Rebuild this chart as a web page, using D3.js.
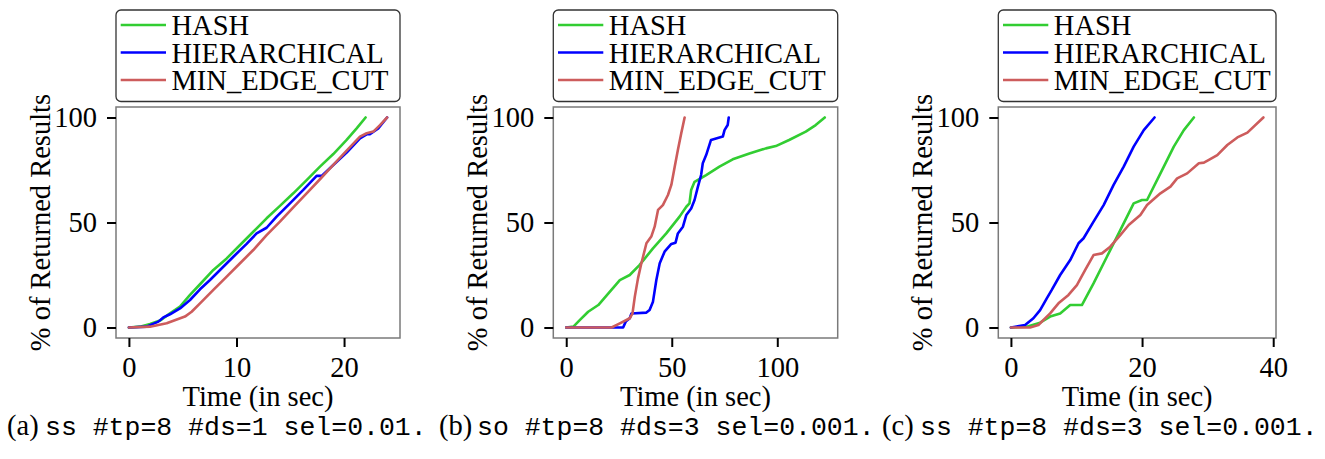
<!DOCTYPE html>
<html>
<head>
<meta charset="utf-8">
<script src="https://cdn.jsdelivr.net/npm/d3@7"></script>
<style>
  html, body { margin: 0; padding: 0; background: #fff; }
  svg { display: block; }
</style>
</head>
<body>
<svg id="fig" width="1325" height="459"></svg>
<script>
// Series names and colours
const seriesNames = ["HASH", "HIERARCHICAL", "MIN_EDGE_CUT"];
const seriesColors = ["#32cd32", "#0000ff", "#cd5c5c"];

// Common y ticks (% of returned results)
const yTicks = [0, 50, 100];

// Panel (a): ss #tp=8 #ds=1 sel=0.01 -- [time (s), % returned]
const hashA = [[0,0],[1.03,0.4],[1.96,1.7],[2.89,3.3],[3.82,6.7],[4.75,10],[5.68,15.5],[6.61,20.6],[7.85,27.4],[9.09,32.9],[10.33,39.3],[11.56,45.6],[12.8,52],[14.04,57.9],[15.28,63.9],[16.52,70.2],[17.76,76.6],[19.0,82.6],[20.24,89.3],[21.17,94.8],[22.0,100]];
const hierA = [[0,0],[1.65,0.4],[2.74,2.8],[3.2,4.8],[3.82,6.3],[4.75,9.1],[5.68,13.1],[6.61,18.2],[7.54,22.6],[8.47,27.4],[9.71,33.7],[10.94,39.8],[11.87,44.8],[12.8,47.5],[13.73,52.8],[14.97,59.1],[16.21,65.5],[17.45,72.2],[17.92,72.2],[19.0,77.4],[20.24,83.3],[21.48,90.1],[22.1,92],[22.4,92],[23.18,94.8],[24.0,100]];
const mecA = [[0,0],[1.96,0.4],[3.51,2],[5.21,5.2],[5.83,7.5],[6.61,11.5],[7.85,17.9],[9.09,24.2],[10.33,30.6],[11.56,36.9],[12.8,44],[14.04,50.4],[15.28,57.2],[16.52,63.9],[17.76,70.6],[19.0,77.4],[20.24,84.2],[21.48,90.9],[22.1,92.5],[22.72,93.3],[23.34,96.4],[24.0,100]];
const xTicksA = [0, 10, 20];

// Panel (b): so #tp=8 #ds=3 sel=0.001
const hashB = [[0,0],[3.4,0.4],[6.5,3.6],[10.4,7.5],[15.2,10.7],[20.7,17.1],[25.4,22.6],[30.1,25],[34.8,29.8],[41.1,37.7],[47.4,44.8],[53.7,52.8],[56.9,57.5],[58.4,59.1],[59.2,65.5],[60.8,69.4],[66.3,72.6],[72.6,76.6],[78.9,80.1],[86.8,82.9],[94.6,85.3],[99.3,86.4],[105.6,89.3],[113.5,93.3],[118.2,96.4],[122.5,100]];
const hierB = [[0,0],[26.96,0],[28.2,2.8],[30.1,4.4],[30.9,6.7],[38.0,7.1],[39.5,8.3],[41.1,12.3],[42.7,22.6],[44.3,30.6],[46.6,36.1],[49.8,39.8],[51.8,40.4],[52.9,44.8],[55.3,48],[56.9,53.6],[59.2,56.7],[60.8,60.7],[62.4,67.1],[63.9,72.6],[64.7,78.2],[66.3,82.1],[68.6,89.3],[74.2,90.9],[75.0,94],[76.5,96.4],[77.0,100]];
const mecB = [[0,0],[21.5,0],[25.4,2],[30.1,4.4],[31.4,6.7],[32.5,14.7],[34.0,23.4],[35.6,30.6],[36.4,33.7],[38.0,40.1],[40.3,43.3],[41.9,48],[43.5,56],[45.8,58.3],[48.2,63.1],[49.8,67.9],[51.4,76.6],[52.9,84.5],[54.5,92.5],[56.1,100]];
const xTicksB = [0, 50, 100];

// Panel (c): ss #tp=8 #ds=3 sel=0.001
const hashC = [[0,0],[2.41,0.4],[4.45,2.3],[5.98,5.2],[7.51,6.7],[9.04,10.7],[10.82,10.7],[12.6,21],[14.64,33.7],[16.68,46.4],[18.72,59.1],[19.99,60.7],[20.76,60.7],[22.8,73.4],[24.84,86.1],[26.37,94],[27.9,100]];
const hierC = [[0,0],[2.16,1.2],[3.43,4.4],[4.45,8.3],[5.47,13.9],[6.23,17.9],[7.51,25],[9.04,32.1],[10.31,40.1],[11.08,42.5],[12.6,50.4],[14.14,58.3],[15.66,67.9],[17.2,76.6],[18.72,86.1],[20.26,94],[21.9,100]];
const mecC = [[0,0],[2.92,0],[4.19,1.2],[5.98,6.7],[7.25,11.5],[8.78,15.5],[10.06,20.2],[11.33,27.4],[12.6,34.5],[13.88,35.3],[15.15,38.5],[16.68,44],[17.96,48.8],[19.74,53.6],[20.76,58.3],[22.8,63.9],[24.33,67.1],[25.35,71],[26.88,73.4],[28.66,78.2],[29.43,78.5],[30.19,79.8],[31.47,82.1],[33.0,86.9],[34.53,90.5],[36.06,92.8],[38.5,100]];
const xTicksC = [0, 20, 40];

// Sub-figure captions
const captionTags = ["(a)", "(b)", "(c)"];
const captionTexts = ["ss #tp=8 #ds=1 sel=0.01.", "so #tp=8 #ds=3 sel=0.001.", "ss #tp=8 #ds=3 sel=0.001."];

const xLabel = "Time (in sec)";
const yLabel = "% of Returned Results";

const panels = [
  { left: 116,   right: 400,   series: [hashA, hierA, mecA], xTicks: xTicksA, capX: 7 },
  { left: 553.3, right: 837.7, series: [hashB, hierB, mecB], xTicks: xTicksB, capX: 439 },
  { left: 998.3, right: 1276,  series: [hashC, hierC, mecC], xTicks: xTicksC, capX: 882 }
];

const plotTop = 107, plotBottom = 338;
const serif = '"Liberation Serif"';
const mono = '"Liberation Mono"';
const fs = 28.5;

const svg = d3.select("#fig");

panels.forEach((p, i) => {
  const all = p.series.flat();
  const xMax = d3.max(all, d => d[0]);
  const xm = xMax * 0.05;
  const x = d3.scaleLinear().domain([-xm, xMax + xm]).range([p.left, p.right]);
  const y = d3.scaleLinear().domain([-5, 105]).range([plotBottom, plotTop]);

  const g = svg.append("g");

  // clip region for the curves
  const clipId = "clip" + i;
  svg.append("clipPath").attr("id", clipId)
    .append("rect").attr("x", p.left).attr("y", plotTop)
    .attr("width", p.right - p.left).attr("height", plotBottom - plotTop);

  // curves
  const line = d3.line().x(d => x(d[0])).y(d => y(d[1]));
  const lg = g.append("g").attr("clip-path", `url(#${clipId})`);
  p.series.forEach((s, k) => {
    lg.append("path").datum(s)
      .attr("fill", "none")
      .attr("stroke", seriesColors[k])
      .attr("stroke-width", 2.6)
      .attr("stroke-linejoin", "round")
      .attr("stroke-linecap", "round")
      .attr("d", line);
  });

  // frame
  g.append("rect").attr("x", p.left).attr("y", plotTop)
    .attr("width", p.right - p.left).attr("height", plotBottom - plotTop)
    .attr("fill", "none").attr("stroke", "#7a7a7a").attr("stroke-width", 1.5);

  // axes
  const xAxis = d3.axisBottom(x).tickValues(p.xTicks).tickSize(9).tickPadding(10).tickFormat(d3.format("d"));
  const yAxis = d3.axisLeft(y).tickValues(yTicks).tickSize(9).tickPadding(10).tickFormat(d3.format("d"));

  const gx = g.append("g").attr("transform", `translate(0,${plotBottom})`).call(xAxis);
  const gy = g.append("g").attr("transform", `translate(${p.left},0)`).call(yAxis);
  [gx, gy].forEach(ax => {
    ax.attr("font-family", null).attr("font-size", null);
    ax.select(".domain").remove();
    ax.selectAll(".tick line").attr("stroke", "#000").attr("stroke-width", 2);
    ax.selectAll(".tick text").attr("fill", "#000")
      .style("font-family", serif).style("font-size", fs + "px");
  });

  // axis labels
  const cx = (p.left + p.right) / 2;
  g.append("text").attr("x", cx).attr("y", 406)
    .attr("text-anchor", "middle")
    .style("font-family", serif).style("font-size", fs + "px")
    .text(xLabel);
  g.append("text")
    .attr("transform", `translate(${p.left - 66},${(plotTop + plotBottom) / 2}) rotate(-90)`)
    .attr("text-anchor", "middle")
    .style("font-family", serif).style("font-size", fs + "px")
    .text(yLabel);

  // legend box spanning the plot width
  const lgd = g.append("g");
  lgd.append("rect").attr("x", p.left).attr("y", 10)
    .attr("width", p.right - p.left).attr("height", 91.5)
    .attr("rx", 5).attr("ry", 5)
    .attr("fill", "#fff").attr("stroke", "#333").attr("stroke-width", 1.3);
  seriesNames.forEach((name, k) => {
    const ly = 25 + k * 27.5;
    lgd.append("line").attr("x1", p.left + 4.7).attr("x2", p.left + 50)
      .attr("y1", ly).attr("y2", ly)
      .attr("stroke", seriesColors[k]).attr("stroke-width", 2.7);
    lgd.append("text").attr("x", p.left + 55.5).attr("y", ly + 10)
      .style("font-family", serif).style("font-size", fs + "px")
      .text(name);
  });

  // caption
  const cap = svg.append("text").attr("x", p.capX).attr("y", 435);
  cap.append("tspan").style("font-family", serif).style("font-size", fs + "px")
    .text(captionTags[i]);
  cap.append("tspan").attr("x", p.capX + 38)
    .style("font-family", mono).style("font-size", "26.5px")
    .text(captionTexts[i]);
});
</script>
</body>
</html>
